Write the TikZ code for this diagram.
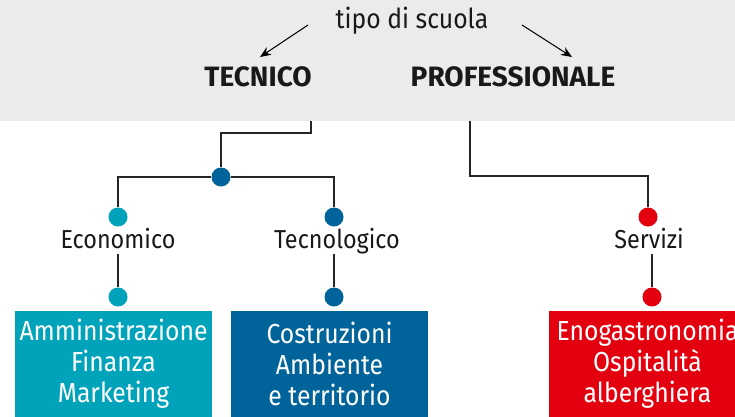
\documentclass[tikz,border=0pt]{standalone}
\usepackage{fontspec}
\setmainfont{Fira Sans}
\newfontfamily\lightsans{Fira Sans}[FakeStretch=0.9]
\usetikzlibrary{arrows.meta}
\definecolor{grau}{HTML}{EBEBEB}
\definecolor{azz}{HTML}{00A3B9}
\definecolor{blu}{HTML}{00639A}
\definecolor{ros}{HTML}{E3000F}
\begin{document}
\begin{tikzpicture}[x=1pt,y=-1pt,
  dot/.style={circle,fill=#1,minimum size=19pt,inner sep=0pt},
  lab/.style={font=\lightsans\fontsize{26}{26}\selectfont,text=black!90,inner sep=0pt,text height=18pt,text depth=6pt},
  tipo/.style={font=\bfseries\fontsize{28}{28}\selectfont,text=black!90,inner sep=0pt},
  box/.style={fill=#1,text=white,minimum width=197pt,minimum height=106pt,align=center,inner sep=0pt,font=\lightsans\fontsize{27.5}{31}\selectfont},
  wire/.style={line width=1.2pt,black!85}]
\useasboundingbox (0,0) rectangle (735,416);
\clip (0,0) rectangle (735,416);
\fill[grau] (0,0) rectangle (735,121);
\node[lab,font=\lightsans\fontsize{27.5}{27.5}\selectfont] (scuola) at (412,22) {tipo di scuola};
\node[tipo] (tec) at (258,77) {TECNICO};
\node[tipo] (pro) at (513,77) {PROFESSIONALE};
\coordinate (scuolal) at (308,25);
\coordinate (tecin) at (260,57);
\coordinate (scuolar) at (522,25);
\coordinate (proin) at (572,57);
\draw[line width=1pt,-{Stealth[length=11pt,width=9pt]}] (scuolal) -- (tecin);
\draw[line width=1pt,-{Stealth[length=11pt,width=9pt]}] (scuolar) -- (proin);
\coordinate (tecout) at (311,121);
\coordinate (proout) at (470,121);
\node[dot=blu] (tecdot) at (221,177) {};
\node[dot=azz] (ecodot) at (118,217) {};
\node[dot=blu] (tnodot) at (334,217) {};
\node[dot=ros] (serdot) at (648,217) {};
\node[lab] (ecolab) at (118,242) {Economico};
\node[lab] (tnolab) at (337,242) {Tecnologico};
\node[lab] (serlab) at (649,242) {Servizi};
\node[dot=azz] (ecodot2) at (118,297) {};
\node[dot=blu] (tnodot2) at (334,297) {};
\node[dot=ros] (serdot2) at (652,297) {};
\node[box=azz] (ecobox) at (113.5,364) {Amministrazione\\Finanza\\Marketing};
\node[box=blu] (tnobox) at (329.5,364) {Costruzioni\\Ambiente\\e territorio};
\node[box=ros] (serbox) at (647.5,364) {Enogastronomia\\Ospitalità\\alberghiera};
\draw[wire] (tecout) -- ++(0,12) -| (tecdot);
\draw[wire] (proout) -- ++(0,55) -| (serdot);
\draw[wire] (ecodot) |- (tecdot) -| (tnodot);
\draw[wire] (ecodot2) -- (ecodot2 |- ecolab.south);
\draw[wire] (tnodot2) -- (tnodot2 |- tnolab.south);
\draw[wire] (serdot2) -- (serdot2 |- serlab.south);
\end{tikzpicture}
\end{document}
